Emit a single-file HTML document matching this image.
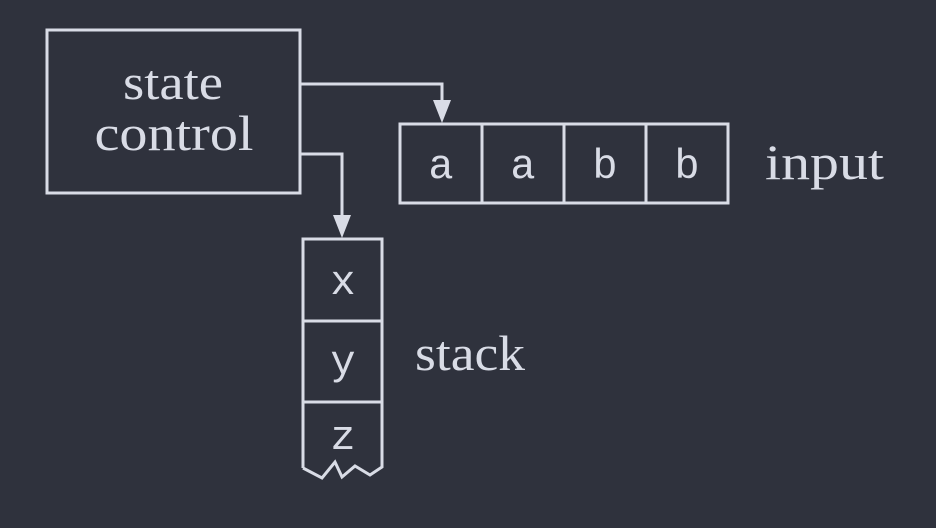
<!DOCTYPE html>
<html><head><meta charset="utf-8"><style>
html,body{margin:0;padding:0;background:#2f323d;}
svg{display:block}
.s{font-family:"Liberation Serif",serif;font-size:50px;fill:#d9dce6}
.m{font-family:"Liberation Mono","DejaVu Sans Mono",monospace;font-size:42px;fill:#d9dce6}
</style></head><body>
<svg width="936" height="528" viewBox="0 0 936 528" xmlns="http://www.w3.org/2000/svg">
<rect width="936" height="528" fill="#2f323d"/>
<g fill="none" stroke="#d9dce6" stroke-width="3">
<rect x="47" y="30" width="253" height="163"/>
<polyline points="300,84 442,84 442,112"/>
<polyline points="300,154 342,154 342,226"/>
<rect x="400" y="124" width="328" height="79"/>
<line x1="482" y1="124" x2="482" y2="203"/>
<line x1="564" y1="124" x2="564" y2="203"/>
<line x1="646" y1="124" x2="646" y2="203"/>
<polyline points="303,468 303,239 382,239 382,467 370,475 355,466 342,477 335,462 322,478 303,468"/>
<line x1="303" y1="321" x2="382" y2="321"/>
<line x1="303" y1="402" x2="382" y2="402"/>
</g>
<g fill="#d9dce6">
<polygon points="433,100 451,100 442,123"/>
<polygon points="333,215 351,215 342,238"/>
</g>
<text class="s" x="173" y="99" text-anchor="middle" textLength="100" lengthAdjust="spacingAndGlyphs">state</text>
<text class="s" x="174" y="150" text-anchor="middle" textLength="159" lengthAdjust="spacingAndGlyphs">control</text>
<text class="s" x="765" y="179" textLength="119" lengthAdjust="spacingAndGlyphs">input</text>
<text class="s" x="415" y="370" textLength="110" lengthAdjust="spacingAndGlyphs">stack</text>
<text class="m" x="441" y="178" text-anchor="middle">a</text>
<text class="m" x="523" y="178" text-anchor="middle">a</text>
<text class="m" x="605" y="178" text-anchor="middle">b</text>
<text class="m" x="687" y="178" text-anchor="middle">b</text>
<text class="m" x="343" y="294" text-anchor="middle">x</text>
<text class="m" x="343" y="374" text-anchor="middle">y</text>
<text class="m" x="343" y="449" text-anchor="middle">z</text>
</svg>
</body></html>
